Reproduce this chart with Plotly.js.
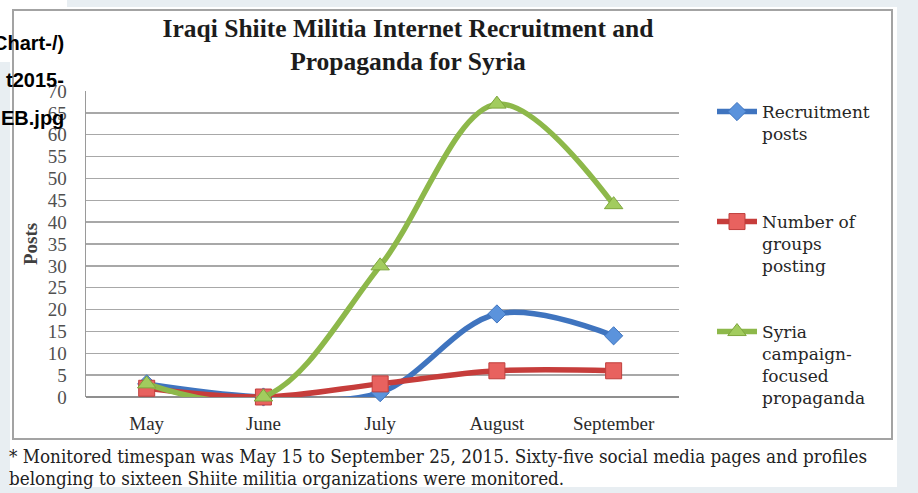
<!DOCTYPE html>
<html>
<head>
<meta charset="utf-8">
<script src="https://cdn.plot.ly/plotly-3.0.1.min.js"></script>
<style>
  html, body { margin: 0; padding: 0; background: #e8eef2; }
  #chart { width: 918px; height: 493px; }
</style>
</head>
<body>
<div id="chart"></div>
<script>
// ---- Data ----
const months = ["May", "June", "July", "August", "September"];
const recruitmentPosts = [3, 0, 1, 19, 14];
const groupsPosting = [2, 0, 3, 6, 6];
const syriaPropaganda = [3, 0, 30, 67, 44];
const seriesNames = ["Recruitment<br>posts", "Number of<br>groups<br>posting", "Syria<br>campaign-<br>focused<br>propaganda"];
const yTicks = [0, 5, 10, 15, 20, 25, 30, 35, 40, 45, 50, 55, 60, 65, 70];

// ---- Layout helpers (pixel -> paper) ----
const L = 86, R = 679, T = 91, B = 397;
const px = x => (x - L) / (R - L);
const py = y => (B - y) / (B - T);

const serif = "Liberation Serif, Times New Roman, serif";

const traces = [
  {
    x: months, y: recruitmentPosts, name: seriesNames[0], type: "scatter", mode: "lines+markers",
    line: { color: "#3f74bf", width: 5.5, shape: "spline", smoothing: 1 },
    marker: { symbol: "diamond", size: 14, color: "#5b93dc", line: { color: "#3f74bf", width: 1 } },
    cliponaxis: false, legend: "legend"
  },
  {
    x: months, y: groupsPosting, name: seriesNames[1], type: "scatter", mode: "lines+markers",
    line: { color: "#c63d3b", width: 5.5, shape: "spline", smoothing: 1 },
    marker: { symbol: "square", size: 16, color: "#e8625f", line: { color: "#bf3f3d", width: 1 } },
    cliponaxis: false, legend: "legend2"
  },
  {
    x: months, y: syriaPropaganda, name: seriesNames[2], type: "scatter", mode: "lines+markers",
    line: { color: "#8db84a", width: 5.5, shape: "spline", smoothing: 1 },
    marker: { symbol: "triangle-up", size: 16, color: "#a2cc5e", line: { color: "#7ea63d", width: 1 } },
    cliponaxis: false, legend: "legend3"
  }
];

const legendCommon = {
  xref: "paper", yref: "paper", xanchor: "left", yanchor: "top",
  valign: "top", bgcolor: "rgba(0,0,0,0)", borderwidth: 0,
  font: { family: "DejaVu Serif, Liberation Serif, serif", size: 17, color: "#262626" },
  itemwidth: 40, tracegroupgap: 0
};

const layout = {
  width: 918, height: 493,
  margin: { l: L, r: 918 - R, t: T, b: 493 - B, pad: 0 },
  paper_bgcolor: "#e8eef2",
  plot_bgcolor: "rgba(0,0,0,0)",
  showlegend: true,
  title: {
    text: "Iraqi Shiite Militia Internet Recruitment and<br>Propaganda for Syria",
    x: 408 / 918, xanchor: "center", xref: "container",
    y: 1 - 37 / 493, yanchor: "middle", yref: "container",
    font: { family: serif, size: 25.5, color: "#1c1c1c", weight: "bold" }
  },
  xaxis: {
    type: "category",
    range: [-0.52, 4.56],
    showgrid: false, zeroline: false,
    showline: false,
    ticks: "outside", ticklen: 9, tickcolor: "rgba(0,0,0,0)",
    tickfont: { family: serif, size: 19, color: "#2b2b2b" },
    fixedrange: true
  },
  yaxis: {
    range: [0, 70],
    tickvals: yTicks,
    showgrid: true, gridcolor: "#a8a8a8", gridwidth: 1.5,
    zeroline: true, zerolinecolor: "#8f8f8f", zerolinewidth: 2,
    showline: true, linecolor: "#9a9a9a", linewidth: 1.5,
    ticks: "outside", ticklen: 14, tickcolor: "rgba(0,0,0,0)",
    tickfont: { family: serif, size: 19, color: "#505050" },
    fixedrange: true
  },
  legend: Object.assign({}, legendCommon, { x: px(712), y: py(94) }),
  legend2: Object.assign({}, legendCommon, { x: px(712), y: py(204) }),
  legend3: Object.assign({}, legendCommon, { x: px(712), y: py(314) }),
  shapes: [
    // white page panel
    { type: "rect", xref: "paper", yref: "paper", layer: "below",
      x0: px(10), x1: px(897), y0: py(487), y1: py(7),
      fillcolor: "#ffffff", line: { width: 0 } },
    // white box behind broken image text
    { type: "rect", xref: "paper", yref: "paper", layer: "below",
      x0: px(0), x1: px(67), y0: py(62), y1: py(0),
      fillcolor: "#ffffff", line: { width: 0 } },
    // chart border
    { type: "rect", xref: "paper", yref: "paper", layer: "below",
      x0: px(13), x1: px(892), y0: py(439), y1: py(10),
      fillcolor: "rgba(0,0,0,0)", line: { color: "#a3a3a3", width: 2 } }
  ],
  annotations: [
    { xref: "paper", yref: "paper", x: px(30), y: py(244), text: "Posts", textangle: -90,
      showarrow: false, xanchor: "center", yanchor: "middle",
      font: { family: serif, size: 19, color: "#404040", weight: "bold" } },
    { xref: "paper", yref: "paper", x: px(7), y: py(456), text: "* Monitored timespan was May 15 to September 25, 2015. Sixty-five social media pages and profiles",
      showarrow: false, xanchor: "left", yanchor: "middle",
      font: { family: "DejaVu Serif Condensed, Liberation Serif, serif", size: 18.7, color: "#222222" } },
    { xref: "paper", yref: "paper", x: px(7), y: py(478), text: "belonging to sixteen Shiite militia organizations were monitored.",
      showarrow: false, xanchor: "left", yanchor: "middle",
      font: { family: "DejaVu Serif Condensed, Liberation Serif, serif", size: 18.7, color: "#222222" } },
    { xref: "paper", yref: "paper", x: px(66), y: py(43), text: "Chart-/)",
      showarrow: false, xanchor: "right", yanchor: "middle",
      font: { family: "Liberation Sans, Arial, sans-serif", size: 20, color: "#000000", weight: "bold" } },
    { xref: "paper", yref: "paper", x: px(66), y: py(80), text: "t2015-",
      showarrow: false, xanchor: "right", yanchor: "middle",
      font: { family: "Liberation Sans, Arial, sans-serif", size: 20, color: "#000000", weight: "bold" } },
    { xref: "paper", yref: "paper", x: px(66), y: py(118), text: "EB.jpg",
      showarrow: false, xanchor: "right", yanchor: "middle",
      font: { family: "Liberation Sans, Arial, sans-serif", size: 20, color: "#000000", weight: "bold" } }
  ]
};

Plotly.newPlot("chart", traces, layout, { displayModeBar: false, staticPlot: true });
</script>
</body>
</html>
